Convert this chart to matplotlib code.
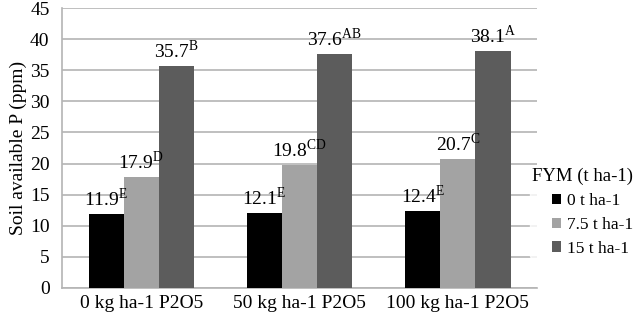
import numpy as np
import matplotlib
matplotlib.use("Agg")
import matplotlib.pyplot as plt

plt.rcParams["font.family"] = ["Liberation Serif", "DejaVu Serif"]
plt.rcParams["mathtext.fontset"] = "custom"
plt.rcParams["mathtext.rm"] = "Liberation Serif"

categories = ["0 kg ha-1 P2O5", "50 kg ha-1 P2O5", "100 kg ha-1 P2O5"]
series_names = ["0 t ha-1", "7.5 t ha-1", "15 t ha-1"]
fym_0 = [11.9, 12.1, 12.4]
fym_75 = [17.9, 19.8, 20.7]
fym_15 = [35.7, 37.6, 38.1]
letters_0 = ["E", "E", "E"]
letters_75 = ["D", "CD", "C"]
letters_15 = ["B", "AB", "A"]
colors = ["#000000", "#a3a3a3", "#5c5c5c"]

fig = plt.figure(figsize=(6.4, 3.25), dpi=100)
ax = fig.add_axes([0.097, 0.114, 0.742, 0.861])

x = np.arange(len(categories))
w = 0.222
all_vals = [fym_0, fym_75, fym_15]
all_letters = [letters_0, letters_75, letters_15]
for i, (vals, lets) in enumerate(zip(all_vals, all_letters)):
    xs = x + (i - 1) * w
    ax.bar(xs, vals, width=w, color=colors[i], label=series_names[i], zorder=3)
    for xi, v, s in zip(xs, vals, lets):
        ax.text(xi, v + 0.6, f"{v}$^{{\\mathrm{{{s}}}}}$", ha="center", va="bottom",
                fontsize=14, zorder=4)

ax.set_xlim(-0.5, 2.5)
ax.set_ylim(0, 45)
ax.set_yticks(range(0, 46, 5))
ax.set_xticks(x)
ax.set_xticklabels(categories, fontsize=14)
ax.tick_params(axis="y", labelsize=14, length=0, pad=9)
ax.tick_params(axis="x", length=0, pad=5)
ax.set_ylabel("Soil available P (ppm)", fontsize=14, labelpad=2)
ax.yaxis.grid(True, color="#b4b4b4", linewidth=1.2, zorder=0)
for side in ["top", "right"]:
    ax.spines[side].set_visible(False)
ax.spines["left"].set_color("#b4b4b4")
ax.spines["bottom"].set_color("#b4b4b4")
ax.spines["left"].set_linewidth(1.2)
ax.spines["bottom"].set_linewidth(1.2)

leg = fig.legend(loc="upper right", bbox_to_anchor=(1.005, 0.515), frameon=True,
                 title="FYM (t ha-1)", fontsize=12.5, title_fontsize=13.5,
                 handlelength=0.55, handleheight=0.55, handletextpad=0.3,
                 labelspacing=0.45, borderpad=0.1)
leg.get_frame().set_facecolor("white")
leg.get_frame().set_edgecolor("white")
leg._legend_box.align = "right"

plt.savefig("out.png", dpi=100)
